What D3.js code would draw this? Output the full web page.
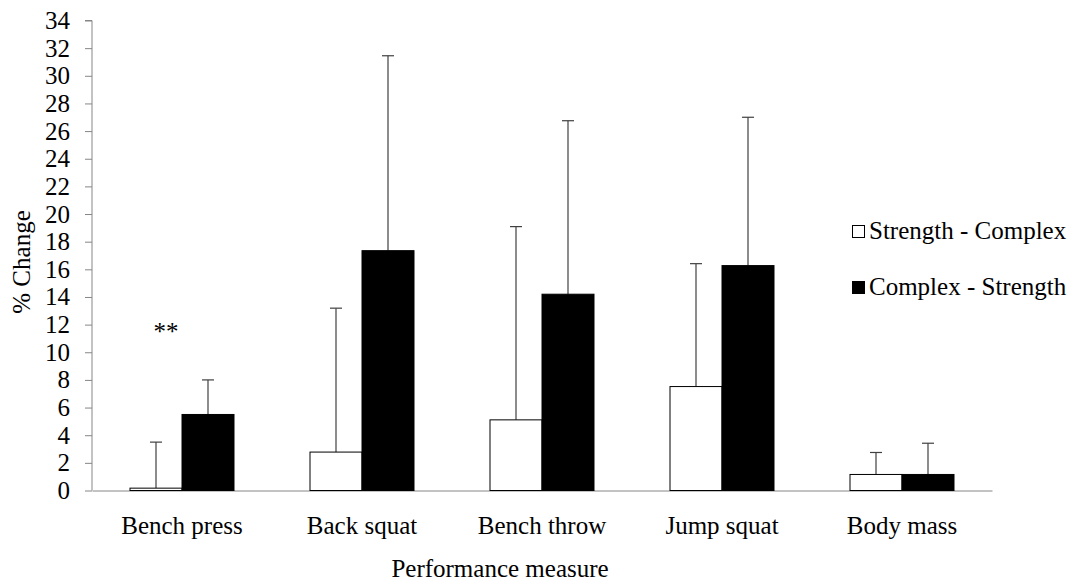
<!DOCTYPE html>
<html><head><meta charset="utf-8">
<script src="https://cdn.jsdelivr.net/npm/d3@7/dist/d3.min.js"></script>
<style>
  body { margin: 0; background: #fff; }
  svg { display: block; }
  svg text.lbl { font-family: "Times New Roman", "Liberation Serif", Times, serif; font-size: 25px; fill: #000; }
</style>
</head><body><svg id="c" width="1082" height="583"></svg>
<script>
const categories = ["Bench press","Back squat","Bench throw","Jump squat","Body mass"];
const seriesNames = ["Strength - Complex","Complex - Strength"];
const strengthComplex = [0.17, 2.78, 5.11, 7.52, 1.16];
const strengthComplexErr = [3.33, 10.41, 13.98, 8.89, 1.59];
const complexStrength = [5.5, 17.35, 14.2, 16.27, 1.16];
const complexStrengthErr = [2.5, 14.1, 12.55, 10.73, 2.26];
const yTicks = d3.range(0, 35, 2);
const annotations = [{cat:"Bench press", text:"**", value:10.9}];

const FONT = '"Times New Roman", "Liberation Serif", Times, serif';
const FS = "25px";
const svg = d3.select("#c");
const x0 = 92, x1 = 992, yBase = 490.5, yTop = 20.5;
const x = d3.scaleBand().domain(categories).range([x0, x1]).paddingInner(0).paddingOuter(0);
const y = d3.scaleLinear().domain([0, 34]).range([yBase, yTop]);
const barW = 52;

function styleText(sel){
  return sel.classed("lbl", true)
    .attr("font-family", FONT).attr("font-size", FS)
    .style("font-family", FONT, "important").style("font-size", FS, "important").style("fill", "#000");
}

// y axis
const yAxis = d3.axisLeft(y).tickValues(yTicks).tickSize(7).tickPadding(15);
const gy = svg.append("g").attr("transform", `translate(${x0},0)`).call(yAxis);
gy.attr("font-family", FONT).attr("font-size", FS);
gy.select(".domain").attr("stroke", "#868686").attr("d", `M-7,${yTop}H0V${yBase}`);
gy.selectAll(".tick line").attr("stroke", "#868686");
styleText(gy.selectAll(".tick text"));

// x axis
const xAxis = d3.axisBottom(x).tickSize(0).tickPadding(26);
const gx = svg.append("g").attr("transform", `translate(0,${yBase})`).call(xAxis);
gx.attr("font-family", FONT).attr("font-size", FS);
gx.select(".domain").attr("stroke", "#868686");
styleText(gx.selectAll(".tick text"));

const data = categories.map((c,i)=>({c, v:[strengthComplex[i], complexStrength[i]], e:[strengthComplexErr[i], complexStrengthErr[i]]}));
const fills = ["#fff", "#000"];
const g = svg.append("g");
data.forEach(d=>{
  const cx = x(d.c) + x.bandwidth()/2;
  [0,1].forEach(s=>{
    const bx = s===0 ? cx - barW : cx;
    const top = y(d.v[s]);
    const et = y(d.v[s] + d.e[s]);
    g.append("line").attr("x1", bx+barW/2).attr("x2", bx+barW/2).attr("y1", top).attr("y2", et).attr("stroke", "#404040").attr("stroke-width", 1.2);
    g.append("line").attr("x1", bx+barW/2-6).attr("x2", bx+barW/2+6).attr("y1", et).attr("y2", et).attr("stroke", "#404040").attr("stroke-width", 1.2);
    g.append("rect").attr("x", bx).attr("y", top).attr("width", barW).attr("height", yBase - top)
      .attr("fill", fills[s]).attr("stroke", "#000").attr("stroke-width", 1);
  });
});

annotations.forEach(a=>{
  styleText(svg.append("text").attr("x", x(a.cat)+x.bandwidth()/2 - 16).attr("y", y(a.value)).attr("text-anchor","middle").text(a.text));
});

// axis titles
styleText(svg.append("text").attr("x", 500).attr("y", 577).attr("text-anchor","middle").text("Performance measure"));
styleText(svg.append("text").attr("transform","translate(30,262) rotate(-90)").attr("text-anchor","middle").text("% Change"));

// legend
const lg = svg.append("g");
seriesNames.forEach((n,i)=>{
  const ly = 239 + i*56;
  lg.append("rect").attr("x", 852.5).attr("y", ly-13.5).attr("width", 12).attr("height", 12).attr("fill", fills[i]).attr("stroke","#000").attr("stroke-width",1);
  styleText(lg.append("text").attr("x", 869).attr("y", ly).text(n));
});

// re-apply the font in case anything resets it after load
function reapply(){ styleText(svg.selectAll("text")); }
window.addEventListener("load", reapply);
setTimeout(reapply, 0);
setTimeout(reapply, 200);
</script></body></html>
